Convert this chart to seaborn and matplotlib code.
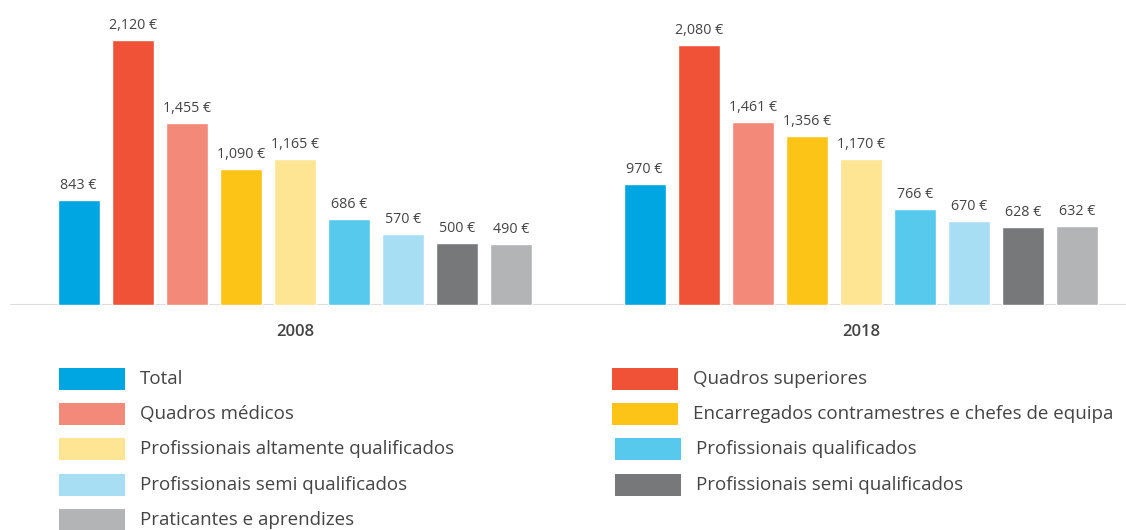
import pandas as pd
import matplotlib.pyplot as plt
import seaborn as sns
from matplotlib.patches import Rectangle

# --- DATA ---
years = ['2008', '2018']
categories = [
    'Total',
    'Quadros superiores',
    'Quadros médicos',
    'Encarregados contramestres e chefes de equipa',
    'Profissionais altamente qualificados',
    'Profissionais qualificados',
    'Profissionais semi qualificados',
    'Profissionais semi qualificados',
    'Praticantes e aprendizes',
]
values_2008 = [843, 2120, 1455, 1090, 1165, 686, 570, 500, 490]
values_2018 = [970, 2080, 1461, 1356, 1170, 766, 670, 628, 632]
colors = ['#00a6e2', '#f05237', '#f38a79', '#fdc418', '#fde594',
          '#57c9ec', '#a8def3', '#76787a', '#b2b4b5']

# hue key is the index, because two labels are the same
rows = []
for i in range(len(categories)):
    rows.append({'year': years[0], 'code': i, 'value': values_2008[i]})
    rows.append({'year': years[1], 'code': i, 'value': values_2018[i]})
df = pd.DataFrame(rows)

sns.set_style('white')
plt.rcParams['font.family'] = ['Open Sans', 'DejaVu Sans']
text_color = '#444444'

W, H = 1126, 530
fig = plt.figure(figsize=(W / 100, H / 100), dpi=100)
ax = fig.add_axes([0, (H - 305) / H, 1, 305 / H])

sns.barplot(data=df, x='year', y='value', hue='code', order=years,
            hue_order=list(range(len(categories))),
            palette=dict(enumerate(colors)), width=0.86, gap=0.22,
            saturation=1, legend=False, ax=ax)

ax.set_xlim(-295 / 566, 1 + (W - 861) / 566)
ax.set_ylim(0, 305 * 8)
ax.axhline(0, xmin=11 / W, xmax=1, color='#dddddd', linewidth=1.5, zorder=0)

for cont in ax.containers:
    ax.bar_label(cont, labels=[f'{v:,.0f} €' for v in cont.datavalues],
                 padding=5, fontsize=10.3, color=text_color)

for s in ax.spines.values():
    s.set_visible(False)
ax.set_yticks([])
ax.tick_params(axis='x', length=0, pad=14, labelsize=12, labelcolor=text_color)
for t in ax.get_xticklabels():
    t.set_fontweight('semibold')
ax.set_xlabel('')
ax.set_ylabel('')

# --- legend, row-major in two columns ---
patch_x = [59, 612, 59, 612, 59, 615, 59, 615, 59]
label_x = [140, 693, 140, 693, 140, 696, 140, 696, 140]
row_y = [379, 414, 449, 485, 520]
for i, (lab, c) in enumerate(zip(categories, colors)):
    y0 = row_y[i // 2]
    fig.add_artist(Rectangle((patch_x[i] / W, (H - y0 - 11) / H), 66 / W, 22 / H,
                             transform=fig.transFigure, color=c, lw=0))
    fig.text(label_x[i] / W, (H - y0) / H, lab, fontsize=13.5,
             color=text_color, va='center', ha='left')

plt.savefig('out.png', dpi=100)
plt.close()
